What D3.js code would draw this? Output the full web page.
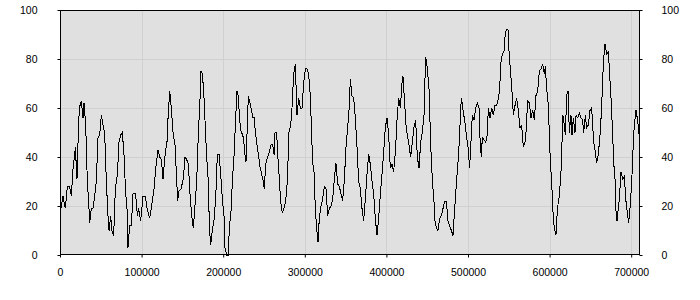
<!DOCTYPE html>
<html>
<head>
<meta charset="utf-8">
<script src="https://cdn.jsdelivr.net/npm/d3@7"></script>
<style>
  body { margin: 0; background: #fff; }
  .tick text { font-family: "Liberation Sans", Arial, sans-serif; font-size: 10.5px; fill: #000; }
  .tick line { stroke: #000; }
  .grid line { stroke: #d0d0d0; shape-rendering: crispEdges; }
</style>
</head>
<body>
<svg id="chart" width="700" height="300"></svg>
<script>
// readings, x in data units
var xs = [
  0, 3700, 6500, 9000, 11800, 13900, 15900, 18000, 18800, 20800, 22900, 24500, 26100, 28200, 29400,
  31500, 33500, 35100, 36400, 38400, 40400, 42500, 44500, 46600, 48600, 50700, 52700, 54700, 56800,
  58800, 60100, 62100, 63700, 65800, 67800, 70300, 72300, 74300, 76400, 78400, 80500, 82100, 83300,
  85400, 87400, 89500, 92700, 94800, 96400, 98900, 101700, 104600, 107000, 109900, 111900, 115200,
  117200, 120100, 122100, 124200, 126200, 127500, 129100, 131100, 132400, 134400, 136400, 138500,
  140900, 144200, 145800, 148300, 151100, 153200, 155200, 157300, 159300, 161400, 163400, 165400,
  167500, 169500, 171600, 172800, 174400, 176100, 177700, 179700, 181800, 183000, 184600, 186700,
  188700, 190800, 192800, 194900, 196900, 198900, 201000, 202200, 204300, 206300, 207500, 209600,
  211200, 213200, 215300, 216900, 218500, 219800, 221400, 222600, 224700, 226700, 227900, 229600,
  230800, 232800, 234900, 236100, 238200, 239000, 241000, 243100, 245100, 247100, 249200, 250400,
  252000, 254500, 256500, 258600, 260600, 262300, 263500, 265500, 266800, 268400, 270400, 272500,
  274500, 276600, 278600, 280600, 282700,
  284300, 286400, 288400, 290400, 292500, 294500, 296600, 298600, 300700, 302700, 304700, 306800,
  308000, 309600, 311300, 312900, 314500, 316200, 317800, 319900, 321900, 323900, 326000, 328000,
  330100, 332100, 334200, 336200, 338200, 340300, 342300, 344400, 346400, 348500, 350500, 352500,
  354600, 355800, 357800, 359900, 361900, 364000, 366000, 368100, 370100, 372100, 374200, 376200,
  378300, 380300, 382400, 384400, 386400, 388500, 390500, 392600, 394600, 396700, 398700, 400700,
  402800, 404800, 406900, 408900, 411000, 413000, 415000, 417100, 419100, 420300, 422000, 424000,
  426100,
  427700, 429700, 431800, 433800, 435900, 437900, 440000, 442000, 444000, 446100, 447300, 448100,
  450200, 452200, 453400, 455100, 457100, 458300, 459600, 461200, 463200, 465300, 467300, 469400,
  471400, 473500, 475500, 477500, 479600, 481600, 483700, 485700, 487800, 489800, 491000, 492200,
  493900, 495900, 498000, 500000, 502000, 504100, 505300, 507400, 509400, 511400, 513500, 514700,
  516300, 517600, 519600, 521700, 523700, 524900, 527000, 529000, 531100, 533100, 535100, 537200,
  538800, 540000, 542100, 544100, 545300, 547000, 549000, 550300, 552300, 554300, 555600, 557600,
  559600, 561700, 563700, 565800, 567800, 569900,
  571100, 573100, 575200, 577200, 579300, 581300, 583300, 585400, 587400, 589500, 591500, 593600,
  594800, 596400, 598500, 599700, 600900, 602500, 603800, 605000, 606600, 607800, 609100, 610700,
  611900, 614000, 615200, 616400, 618100, 619300, 620900, 622600, 624200, 626200, 627500, 629100,
  631100, 632400, 634400, 636400, 638500, 640500, 641800, 643800, 645400, 647500, 649500, 651600,
  652800, 654000, 656100, 657700, 659700, 661800, 663800, 665000, 666300, 667900, 669900, 672000,
  673200, 675300, 677300, 678500, 680200, 681400, 682600, 684200, 685500, 687500, 689500, 691600,
  693600, 695700, 696900, 698500, 700600, 701800, 703800, 705900, 707900, 710000, 710800
];

var ys = [
  17, 24, 19, 28, 28, 24, 35, 41, 44, 31, 55, 61, 63, 56, 62,
  53, 30, 22, 13, 19, 19, 24, 30, 48, 49, 57, 53, 50, 30,
  16, 10, 16, 10, 8, 27, 33, 46, 49, 50, 41, 25, 19, 3,
  12, 12, 25, 25, 16, 19, 14, 24, 24, 18.5, 15, 19, 27,
  35, 43, 40, 39, 31, 36, 42, 46, 56, 67, 60, 50,
  45, 22, 26, 27, 31, 40, 39, 37, 25, 16, 11, 20,
  30, 49, 64, 75, 74, 67, 55, 40, 30, 12, 4, 10,
  14, 23, 41, 41, 33, 23, 16, 3, 0, 0, 11, 18,
  30, 40, 56, 67, 65, 57, 51, 50, 48, 41, 38, 53,
  65, 62, 59, 56, 56, 52, 46, 41, 36, 33, 30, 27,
  37, 40, 42, 45, 45, 41, 50, 50, 41, 33, 22, 17,
  19, 22, 30, 50, 53,
  60, 74, 78, 57, 64, 60, 60, 70, 76, 76, 74, 65,
  53, 38, 34, 19, 11, 5.5, 15, 20, 23, 28, 27, 16,
  19, 20, 23, 31, 37.5, 29, 28, 25, 22, 31, 44, 52,
  61, 72, 65, 64, 56, 44, 30, 27, 19, 14, 23, 33,
  41, 37, 30, 25, 15, 8, 15, 25, 33, 42, 52, 56,
  49, 35.5, 37, 34, 42, 55, 64, 60, 70, 73, 64, 53,
  48,
  45, 40, 46, 52, 55, 40, 35.5, 46, 50, 57, 72, 81,
  76, 68, 55, 38, 27, 22, 14, 11, 10, 15, 16, 19,
  22, 22, 14, 12, 10, 8, 19, 29, 38, 49, 60, 64,
  59, 55, 49, 44, 35.5, 49, 57, 55, 60, 62, 60, 48,
  40, 48, 47, 46, 49, 60, 56, 60, 57, 61, 61, 64,
  67, 78, 82, 83, 89, 92, 92, 83, 74, 65, 57, 61,
  64, 59, 52, 53, 44, 46,
  50, 63, 62, 56, 59, 55, 65, 67, 75, 76, 78, 74,
  77, 68, 61, 49, 38, 30, 20, 13, 10, 8, 16, 22,
  24, 34, 46, 57, 53, 49, 65, 67, 50, 57, 49, 56,
  50, 57, 56, 58, 56, 55, 50, 57, 52, 53, 59, 60,
  53, 46, 42, 37.5, 41, 49, 60, 72, 80, 86, 82, 83,
  76, 64, 49, 38, 31, 18, 14, 19, 23, 34, 31, 32,
  22, 16, 13, 19, 29, 40, 53, 59, 55, 48, 43
];

var xTicks = [0, 100000, 200000, 300000, 400000, 500000, 600000, 700000];
var yTicks = [0, 20, 40, 60, 80, 100];

var margin = {top: 10, right: 60, bottom: 45, left: 60};
var width = 700 - margin.left - margin.right,
    height = 300 - margin.top - margin.bottom;

var svg = d3.select('#chart');
var g = svg.append('g')
  .attr('transform', 'translate(' + margin.left + ',' + margin.top + ')');

var x = d3.scaleLinear().domain([0, 710800]).range([0, width]);
var y = d3.scaleLinear().domain([0, 100]).range([height, 0]);

g.append('rect')
  .attr('width', width)
  .attr('height', height)
  .attr('fill', '#e0e0e0');

// grid
var grid = g.append('g').classed('grid', true);
grid.selectAll('line.gx')
  .data(xTicks.slice(1))
  .enter().append('line')
    .attr('x1', function(d) { return Math.round(x(d)) + 0.5; })
    .attr('x2', function(d) { return Math.round(x(d)) + 0.5; })
    .attr('y1', 0)
    .attr('y2', height);
grid.selectAll('line.gy')
  .data(yTicks.slice(1, -1))
  .enter().append('line')
    .attr('x1', 0)
    .attr('x2', width)
    .attr('y1', function(d) { return Math.round(y(d)) + 0.5; })
    .attr('y2', function(d) { return Math.round(y(d)) + 0.5; });

var pts = xs.map(function(d, i) { return [d, ys[i]]; });

var line = d3.line()
  .x(function(d) { return x(d[0]); })
  .y(function(d) { return y(d[1]); });

g.append('path')
  .datum(pts)
  .attr('d', line)
  .attr('fill', 'none')
  .attr('stroke', '#000')
  .attr('stroke-width', 1)
  .attr('shape-rendering', 'crispEdges');

// frame
g.append('rect')
  .attr('x', 0.5)
  .attr('y', 0.5)
  .attr('width', width - 1)
  .attr('height', height - 1)
  .attr('fill', 'none')
  .attr('stroke', '#000')
  .attr('shape-rendering', 'crispEdges');

g.append('g')
  .attr('transform', 'translate(0.5,0)')
  .call(d3.axisLeft(y).tickValues(yTicks).tickSize(3).tickSizeOuter(0).tickPadding(20))
  .call(function(a) { a.select('.domain').remove(); });

g.append('g')
  .attr('transform', 'translate(' + (width - 0.5) + ',0)')
  .call(d3.axisRight(y).tickValues(yTicks).tickSize(3).tickSizeOuter(0).tickPadding(19))
  .call(function(a) { a.select('.domain').remove(); });

g.append('g')
  .attr('transform', 'translate(0,' + (height - 0.5) + ')')
  .call(d3.axisBottom(x).tickValues(xTicks).tickFormat(d3.format('d')).tickSize(3).tickSizeOuter(0).tickPadding(11))
  .call(function(a) { a.select('.domain').remove(); });
</script>
</body>
</html>
